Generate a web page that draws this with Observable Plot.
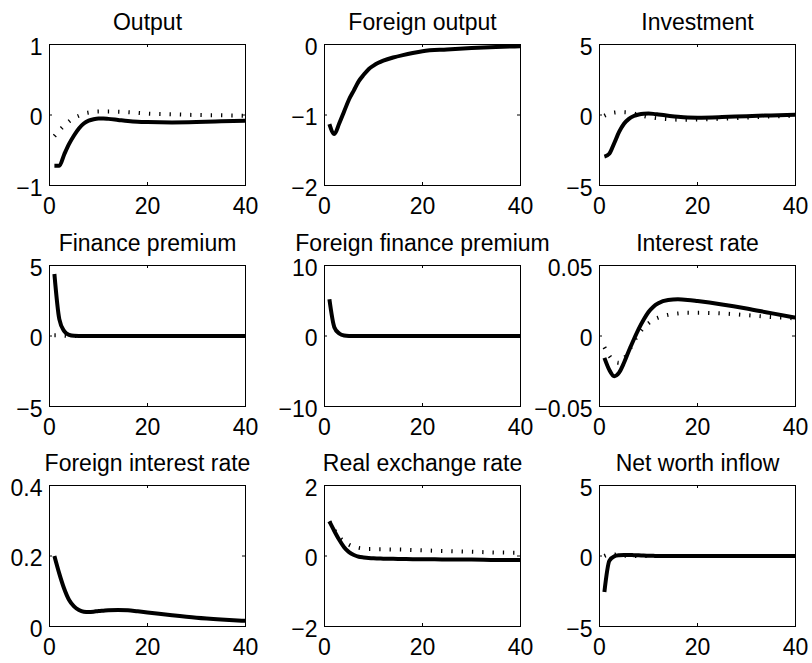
<!DOCTYPE html>
<html><head><meta charset="utf-8">
<script src="https://cdn.jsdelivr.net/npm/d3@7"></script>
<script src="https://cdn.jsdelivr.net/npm/@observablehq/plot@0.6"></script>
<style>
body{margin:0;background:#fff;}
#fig{position:relative;width:812px;height:663px;background:#fff;overflow:hidden;}
.panel{position:absolute;}
</style></head><body><div id="fig"></div><script>
const periods = [1,2,3,4,5,6,7,8,9,10,11,12,14,16,18,20,25,30,35,40];

const titles = ["Output","Foreign output","Investment","Finance premium","Foreign finance premium","Interest rate","Foreign interest rate","Real exchange rate","Net worth inflow"];

const xTicks = [0,20,40];
const yTicks = [[-1,0,1],[-2,-1,0],[-5,0,5],[-5,0,5],[-10,0,10],[-0.05,0,0.05],[0,0.2,0.4],[-2,0,2],[-5,0,5]];
const yTickLabels = [["−1","0","1"],["−2","−1","0"],["−5","0","5"],["−5","0","5"],["−10","0","10"],["−0.05","0","0.05"],["0","0.2","0.4"],["−2","0","2"],["−5","0","5"]];

// solid (thick) series
const outputSolid = [-0.72,-0.72,-0.56,-0.41,-0.29,-0.19,-0.12,-0.08,-0.06,-0.05,-0.05,-0.055,-0.07,-0.085,-0.095,-0.1,-0.105,-0.1,-0.09,-0.08];
const foreignOutputSolid = [-1.13,-1.27,-1.12,-0.95,-0.78,-0.65,-0.52,-0.43,-0.35,-0.3,-0.26,-0.23,-0.185,-0.15,-0.12,-0.095,-0.07,-0.05,-0.035,-0.025];
const investmentSolid = [-2.95,-2.75,-2.0,-1.2,-0.62,-0.27,-0.07,0.04,0.09,0.1,0.08,0.04,-0.05,-0.13,-0.18,-0.19,-0.15,-0.08,-0.03,0.01];
const financePremiumSolid = [4.4,1.2,0.35,0.08,0.01,0,0,0,0,0,0,0,0,0,0,0,0,0,0,0];
const foreignFinancePremiumSolid = [5.2,1.25,0.35,0.06,0.01,0,0,0,0,0,0,0,0,0,0,0,0,0,0,0];
const interestRateSolid = [-0.0155,-0.024,-0.0285,-0.026,-0.019,-0.0105,-0.0025,0.005,0.0115,0.017,0.0208,0.0232,0.0255,0.026,0.0256,0.0248,0.0224,0.0195,0.0162,0.013];
const foreignInterestRateSolid = [0.2,0.15,0.107,0.075,0.057,0.047,0.042,0.041,0.042,0.044,0.045,0.046,0.047,0.046,0.043,0.04,0.032,0.025,0.02,0.016];
const realExchangeRateSolid = [0.98,0.71,0.46,0.25,0.11,0.03,-0.02,-0.04,-0.055,-0.065,-0.07,-0.075,-0.08,-0.085,-0.09,-0.09,-0.1,-0.1,-0.11,-0.11];
const netWorthInflowSolid = [-2.55,-0.35,-0.02,0.05,0.07,0.07,0.06,0.05,0.03,0.02,0.01,0,0,0,0,0,0,0,0,0];

// dotted (thin) series
const outputDotted = [-0.3,-0.22,-0.15,-0.09,-0.04,-0.01,0.02,0.035,0.045,0.05,0.05,0.05,0.045,0.04,0.03,0.02,0.01,0,-0.005,-0.01];
const investmentDotted = [-0.05,0.1,0.17,0.2,0.2,0.17,0.1,0,-0.08,-0.15,-0.2,-0.24,-0.3,-0.33,-0.33,-0.32,-0.26,-0.18,-0.1,-0.05];
const financePremiumDotted = [0.05,0.05,0.02,0,0,0,0,0,0,0,0,0,0,0,0,0,0,0,0,0];
const interestRateDotted = [-0.008,-0.014,-0.018,-0.019,-0.016,-0.0105,-0.004,0.0015,0.006,0.009,0.0115,0.013,0.015,0.016,0.0165,0.0165,0.016,0.0148,0.0135,0.0125];
const realExchangeRateDotted = [0.98,0.74,0.54,0.41,0.32,0.26,0.23,0.21,0.2,0.2,0.19,0.19,0.185,0.18,0.17,0.16,0.14,0.12,0.1,0.09];
const netWorthInflowDotted = [0,0.1,0.1,0.05,0.02,0,0,0,0,0,0,0,0,0,0,0,0,0,0,0];

const solidSeries = [outputSolid,foreignOutputSolid,investmentSolid,financePremiumSolid,foreignFinancePremiumSolid,interestRateSolid,foreignInterestRateSolid,realExchangeRateSolid,netWorthInflowSolid];
const dottedSeries = [outputDotted,null,investmentDotted,financePremiumDotted,null,interestRateDotted,null,realExchangeRateDotted,netWorthInflowDotted];

// layout
const frameLefts = [49,324,599], frameTops = [44,265,485];
const FW = 196, FH = 141, ML = 72, MR = 14, MT = 48, MB = 40;
const FONT = "'Liberation Sans', Arial, Helvetica, sans-serif";
const FS = 23;
const fig = document.getElementById("fig");

titles.forEach((title, i) => {
  const r = Math.floor(i / 3), c = i % 3;
  const ticks = yTicks[i];
  const labelMap = new Map(ticks.map((t, j) => [t, yTickLabels[i][j]]));
  const rows = d => periods.map((p, j) => ({x: p, y: d[j]}));
  const marks = [
    Plot.frame({stroke: "black", strokeWidth: 1}),
    Plot.ruleX(xTicks, {stroke: "black", strokeWidth: 1, insetTop: FH - 3}),
    Plot.ruleX(xTicks, {stroke: "black", strokeWidth: 1, insetBottom: FH - 3}),
    Plot.ruleY(ticks, {stroke: "black", strokeWidth: 1, insetRight: FW - 3}),
    Plot.ruleY(ticks, {stroke: "black", strokeWidth: 1, insetLeft: FW - 3})
  ];
  if (dottedSeries[i]) {
    marks.push(Plot.line(rows(dottedSeries[i]), {x: "x", y: "y", stroke: "black", strokeWidth: 4, strokeDasharray: "1.3,9", strokeLinecap: "butt", curve: "monotone-x", clip: true}));
  }
  marks.push(Plot.line(rows(solidSeries[i]), {x: "x", y: "y", stroke: "black", strokeWidth: 4, strokeLinecap: "butt", strokeLinejoin: "round", curve: "monotone-x", clip: true}));
  marks.push(Plot.axisX({ticks: xTicks, tickSize: 0, tickPadding: 12, label: null, fontSize: FS, tickFormat: d => String(d)}));
  marks.push(Plot.axisY({ticks: ticks, tickSize: 0, tickPadding: 7, dy: 3, label: null, fontSize: FS, tickFormat: d => labelMap.get(d)}));
  marks.push(Plot.text([title], {text: d => d, frameAnchor: "top", dy: -31, fontSize: FS, fill: "black"}));
  const svg = Plot.plot({
    width: FW + ML + MR, height: FH + MT + MB,
    marginLeft: ML, marginRight: MR, marginTop: MT, marginBottom: MB,
    x: {domain: [0, 40]}, y: {domain: [ticks[0], ticks[ticks.length - 1]]},
    style: {fontFamily: FONT, fontSize: FS + "px", background: "transparent", overflow: "visible", color: "black"},
    marks
  });
  const div = document.createElement("div");
  div.className = "panel";
  div.style.left = (frameLefts[c] - ML) + "px";
  div.style.top = (frameTops[r] - MT) + "px";
  div.style.width = (FW + ML + MR) + "px";
  div.appendChild(svg);
  fig.appendChild(div);
});
</script></body></html>
